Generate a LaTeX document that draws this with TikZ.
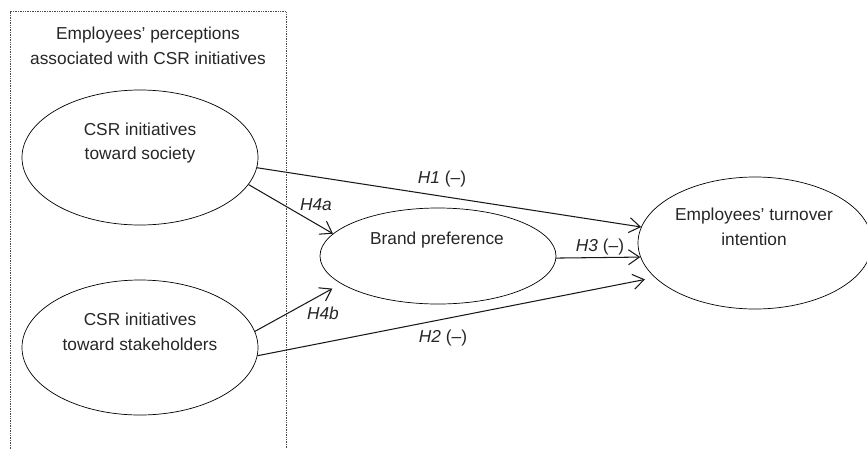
\documentclass[tikz,border=0pt]{standalone}
\usepackage{fontspec}
\setmainfont{Liberation Sans}
\usetikzlibrary{shapes.geometric,arrows.meta}
\begin{document}
\begin{tikzpicture}[x=1pt,y=-1pt,
  construct/.style={draw, ellipse, line width=0.7pt, inner sep=0pt,
    minimum width=236pt, minimum height=135pt},
  caption/.style={align=center, inner sep=0pt, text=black!85,
    font=\fontsize{17.3}{24.5}\selectfont},
  hyp/.style={inner sep=0pt, text=black!85, font=\fontsize{17.3}{20}\selectfont},
  link/.style={draw=black!90, line width=1.05pt,
    -{Straight Barb[length=11pt,width=15pt,line width=1.05pt]}}
]
\useasboundingbox (0,0) rectangle (867,448);
\clip (0,0) rectangle (867,448);

% dotted frame grouping the two CSR constructs
\draw[densely dotted, line width=0.7pt, black!70] (10,11.5) rectangle (286,470);
\node[caption] (frametitle) at (148,46)
  {Employees’ perceptions\\associated with CSR initiatives};

% constructs
\node[construct] (soc) at (140,157.5) {};
\node[caption] (soctxt) at (140,143) {CSR initiatives\\toward society};

\node[construct] (stk) at (140,347.5) {};
\node[caption] (stktxt) at (140,332) {CSR initiatives\\toward stakeholders};

\node[construct, minimum height=96pt] (brand) at (438,256) {};
\node[caption] (brandtxt) at (437,240) {Brand preference};

\node[construct, minimum width=234pt, minimum height=132pt] (tur) at (755,243) {};
\node[caption] (turtxt) at (754,227) {Employees’ turnover\\intention};

% hypothesised paths
\draw[link] (soc.-5.6) -- (tur.172);
\draw[link] (soc.-14.8) -- (brand.168);
\draw[link, shorten >=10pt] (stk.8.8) -- (brand.196.4);
\draw[link, shorten >=10pt] (stk.-4.6) -- (tur.199.9);
\draw[link] (brand.-1) -- (tur.187.3);

% path labels
\node[hyp] (h1) at (442,179) {\textit{H1} (–)};
\node[hyp] (h4a) at (316,205) {\textit{H4a}};
\node[hyp] (h3) at (600,247) {\textit{H3} (–)};
\node[hyp] (h4b) at (323,313) {\textit{H4b}};
\node[hyp] (h2) at (443,338) {\textit{H2} (–)};
\end{tikzpicture}
\end{document}
